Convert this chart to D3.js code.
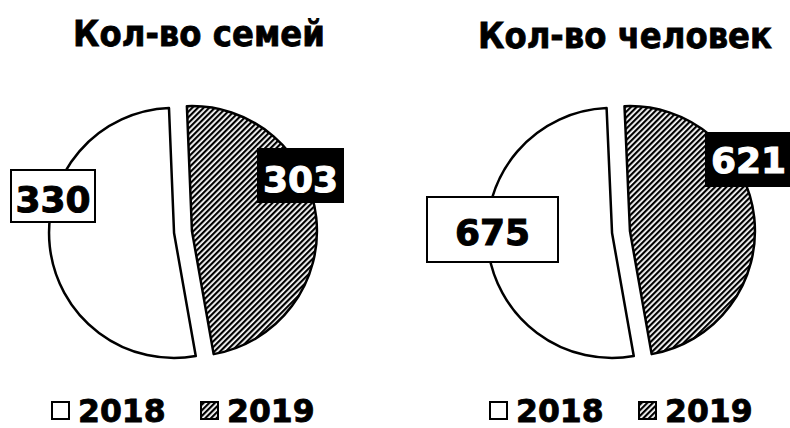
<!DOCTYPE html>
<html>
<head>
<meta charset="utf-8">
<script src="https://cdn.jsdelivr.net/npm/d3@7"></script>
<style>
  html, body { margin: 0; padding: 0; background: #fff; }
  text { font-family: "DejaVu Sans", Verdana, sans-serif; font-weight: bold; }
</style>
</head>
<body>
<svg id="chart"></svg>
<script>
"use strict";

// chart data
const titles = ["Кол-во семей", "Кол-во человек"];
const years = ["2018", "2019"];
const families = [330, 303];
const people = [675, 621];

// layout
const w = 790;
const h = 428;
const radius = 125;
const explode = 9;
const startDeg = 170; // first slice (2018) starts here, clockwise from top

const panels = [
  { values: families, cx: 183, cy: 232, titleX: 199, titleY: 46, titleW: 252,
    boxes: [ { dx: -130, dy: -36, bw: 84, bh: 52, by: 16 },
             { dx: 117.5, dy: -56.5, bw: 85, bh: 53, by: 16.5 } ] },
  { values: people, cx: 621, cy: 232, titleX: 625, titleY: 48, titleW: 294,
    boxes: [ { dx: -128.5, dy: -2.5, bw: 131, bh: 65, by: 15.5 },
             { dx: 127.5, dy: -72.5, bw: 85, bh: 53, by: 13.5 } ] }
];

const svg = d3.select("#chart").attr("width", w).attr("height", h);

// diagonal hatch for 2019
const defs = svg.append("defs");
const pat = defs.append("pattern")
  .attr("id", "hatch")
  .attr("patternUnits", "userSpaceOnUse")
  .attr("width", 4)
  .attr("height", 4)
  .attr("patternTransform", "rotate(45)");
pat.append("rect").attr("width", 4).attr("height", 4).attr("fill", "#fff");
pat.append("rect").attr("width", 2.2).attr("height", 4).attr("fill", "#000");

const fills = ["#fff", "url(#hatch)"];

const pie = d3.pie()
  .sort(null)
  .startAngle(startDeg * Math.PI / 180)
  .endAngle(startDeg * Math.PI / 180 + 2 * Math.PI);

const arc = d3.arc().innerRadius(0).outerRadius(radius);

panels.forEach((p, i) => {
  const g = svg.append("g").attr("transform", `translate(${p.cx},${p.cy})`);

  // title, squeezed horizontally like the narrow bold face of the original
  const tg = svg.append("g").attr("transform", `translate(${p.titleX},${p.titleY})`);
  const title = tg.append("text")
    .attr("text-anchor", "middle")
    .attr("font-size", 35)
    .attr("stroke", "#000")
    .attr("stroke-width", 0.8)
    .text(titles[i]);
  const natural = title.node().getComputedTextLength();
  tg.attr("transform", `translate(${p.titleX},${p.titleY}) scale(${p.titleW / natural},1)`);

  // slices, pulled apart along their bisector
  g.selectAll("path.slice")
    .data(pie(p.values))
    .enter()
    .append("path")
    .attr("class", "slice")
    .attr("transform", (d) => {
      const a = (d.startAngle + d.endAngle) / 2;
      return `translate(${Math.sin(a) * explode},${-Math.cos(a) * explode})`;
    })
    .attr("d", arc)
    .attr("fill", (d, j) => fills[j])
    .attr("stroke", "#000")
    .attr("stroke-width", 2.5)
    .attr("stroke-linejoin", "round");

  // value labels
  p.values.forEach((v, j) => {
    const b = p.boxes[j];
    const ink = j === 0 ? "#000" : "#fff";
    const lg = g.append("g").attr("transform", `translate(${b.dx},${b.dy})`);
    lg.append("rect")
      .attr("x", -b.bw / 2)
      .attr("y", -b.bh / 2)
      .attr("width", b.bw)
      .attr("height", b.bh)
      .attr("fill", j === 0 ? "#fff" : "#000")
      .attr("stroke", "#000")
      .attr("stroke-width", 2);
    lg.append("text")
      .attr("x", 0)
      .attr("y", b.by)
      .attr("text-anchor", "middle")
      .attr("font-size", 36)
      .attr("fill", ink)
      .attr("stroke", ink)
      .attr("stroke-width", 1)
      .text(v);
  });

  // legend
  const legend = g.append("g").attr("transform", "translate(0,190)");
  const legendX = [-131, 18];
  years.forEach((y, j) => {
    legend.append("rect")
      .attr("x", legendX[j])
      .attr("y", -20)
      .attr("width", 17)
      .attr("height", 17)
      .attr("fill", fills[j])
      .attr("stroke", "#000")
      .attr("stroke-width", 2);
    legend.append("text")
      .attr("x", legendX[j] + 26)
      .attr("y", 0)
      .attr("font-size", 31.5)
      .attr("stroke", "#000")
      .attr("stroke-width", 0.8)
      .text(y);
  });
});
</script>
</body>
</html>
